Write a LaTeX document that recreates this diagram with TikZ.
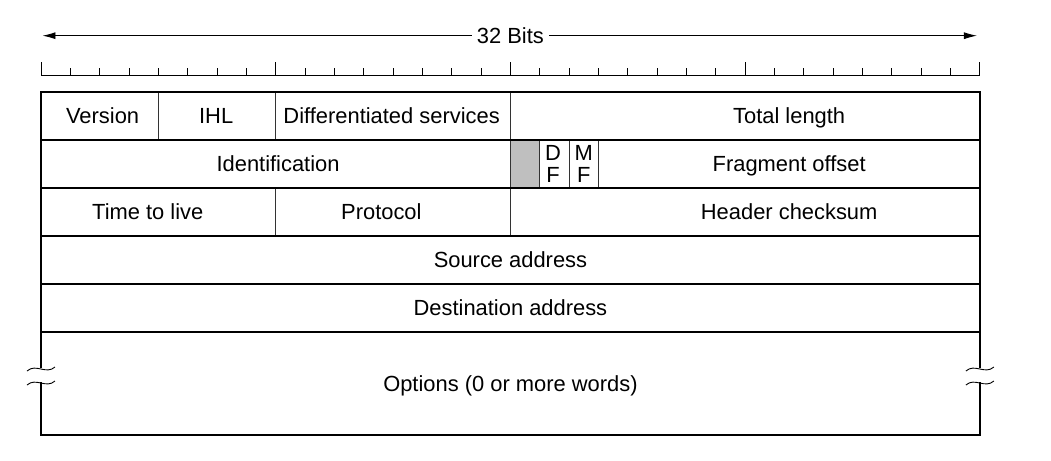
\documentclass[tikz,border=0pt]{standalone}
\usepackage{fontspec}
\setmainfont{Liberation Sans}
\usetikzlibrary{positioning, calc, arrows.meta}

\begin{document}
\begin{tikzpicture}[x=29.34pt, y=-48pt, font=\fontsize{21.9}{24}\selectfont,
	frame/.style={line width=1.3pt},
	divider/.style={line width=1pt, black!80},
	tick/.style={line width=0.9pt},
	field/.style={inner sep=0pt, text height=15.7pt, text depth=0pt}]
	\useasboundingbox (-41pt,92pt) rectangle (1010pt,-368pt);

	% bit ruler
	\coordinate (RL) at (0,-0.354);
	\coordinate (RR) at (32,-0.354);
	\draw[tick] (RL) -- (RR);
	\foreach \b in {0,...,32}
		\draw[tick] (\b,-0.354) -- (\b,-0.5);
	\foreach \b in {0,8,...,32}
		\draw[tick] (\b,-0.354) -- (\b,-0.625);

	\node[field, fill=white, inner sep=5pt] (bits) at (16,-1.173) {32 Bits};
	\coordinate (AL) at (0.05,-1.173);
	\coordinate (AR) at (31.9,-1.173);
	\draw[tick, -{Latex[length=13pt, width=7pt]}] (bits.west) -- (AL);
	\draw[tick, -{Latex[length=13pt, width=7pt]}] (bits.east) -- (AR);

	% header rows
	\fill[black!25] (16,1) rectangle (17,2);
	\draw[divider] (4,0) -- (4,1);
	\draw[divider] (8,0) -- (8,1);
	\draw[divider] (16,0) -- (16,3);
	\draw[divider] (17,1) -- (17,2);
	\draw[divider] (18,1) -- (18,2);
	\draw[divider] (19,1) -- (19,2);
	\draw[divider] (8,2) -- (8,3);
	\draw[frame] (0,0) rectangle (32,5);
	\foreach \r in {1,...,4}
		\draw[frame] (0,\r) -- (32,\r);

	% options row, broken at both sides
	\draw[frame] (0,5) -- (0,5.75);
	\draw[frame] (32,5) -- (32,5.75);
	\draw[frame] (0,6.042) -- (0,7.146) -- (32,7.146) -- (32,6.042);
	\foreach \x in {0,32}
		\foreach \y in {5.771,6.063}
			\draw[tick] ($(\x,\y)+(-14pt,-2pt)$) .. controls +(9pt,8pt) and +(-9pt,-8pt) .. ($(\x,\y)+(14pt,2pt)$);

	\node[field] (version) at (2.1,0.5) {Version};
	\node[field] (ihl) at (5.97,0.5) {IHL};
	\node[field] (dserv) at (11.95,0.5) {Differentiated services};
	\node[field] (total) at (25.5,0.5) {Total length};
	\node[field] (ident) at (8.08,1.5) {Identification};
	\node[field] (dfd) at (17.45,1.26) {D};
	\node[field] (dff) at (17.45,1.73) {F};
	\node[field] (mfm) at (18.5,1.26) {M};
	\node[field] (mff) at (18.5,1.73) {F};
	\node[field] (frag) at (25.5,1.5) {Fragment offset};
	\node[field] (ttl) at (3.64,2.5) {Time to live};
	\node[field] (proto) at (11.6,2.5) {Protocol};
	\node[field] (check) at (25.5,2.5) {Header checksum};
	\node[field] (src) at (16,3.5) {Source address};
	\node[field] (dst) at (16,4.5) {Destination address};
	\node[field] (opts) at (16,6.08) {Options (0 or more words)};
\end{tikzpicture}
\end{document}
